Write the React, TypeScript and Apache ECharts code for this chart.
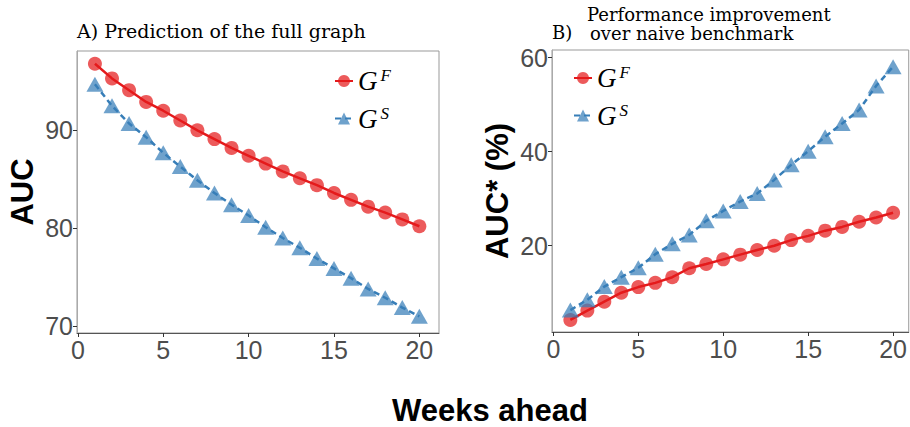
import React, { useEffect, useRef } from "react";
import * as echarts from "echarts";

const weeks = [1, 2, 3, 4, 5, 6, 7, 8, 9, 10, 11, 12, 13, 14, 15, 16, 17, 18, 19, 20];
const aucFull = [96.8, 95.3, 94.1, 92.9, 92.0, 91.0, 90.0, 89.1, 88.2, 87.4, 86.6, 85.8, 85.1, 84.4, 83.6, 82.9, 82.2, 81.6, 80.9, 80.2];
const aucSub = [94.7, 92.5, 90.7, 89.3, 87.7, 86.3, 84.9, 83.6, 82.4, 81.3, 80.1, 79.0, 78.0, 76.9, 75.9, 74.9, 73.8, 72.9, 71.9, 71.0];
const impFull = [4.2, 6.2, 8.1, 10.0, 11.2, 12.1, 13.3, 15.2, 16.1, 17.1, 18.1, 19.1, 20.0, 21.2, 22.1, 23.2, 24.0, 25.1, 26.0, 27.0];
const impSub = [6.3, 8.5, 11.3, 13.3, 15.3, 18.2, 20.4, 22.3, 25.3, 27.4, 29.4, 31.1, 34.0, 37.2, 40.1, 43.2, 46.0, 48.9, 54.0, 58.1];

const xTicks = [0, 5, 10, 15, 20];
const yTicksA = [70, 80, 90];
const yTicksB = [20, 40, 60];

const RED = "#E41A1C";
const BLUE = "#377EB8";

function xAxis(gridIndex: number, min: number, max: number) {
  return {
    type: "value",
    gridIndex,
    min,
    max,
    splitLine: { show: false },
    axisLine: { show: true, onZero: false, lineStyle: { color: "#555", width: 1 } },
    axisTick: { show: true, length: 4, customValues: xTicks, lineStyle: { color: "#333" } },
    axisLabel: { customValues: xTicks, fontSize: 25, color: "#4d4d4d", fontFamily: "Liberation Sans", margin: 4 },
  };
}

function yAxis(gridIndex: number, min: number, max: number, ticks: number[], name: string) {
  return {
    type: "value",
    gridIndex,
    min,
    max,
    name,
    nameLocation: "middle",
    nameGap: 39,
    nameTextStyle: { fontSize: 31, fontWeight: "bold", color: "#000", fontFamily: "Liberation Sans" },
    splitLine: { show: false },
    axisLine: { show: true, onZero: false, lineStyle: { color: "#aaa", width: 1 } },
    axisTick: { show: true, length: 4, customValues: ticks, lineStyle: { color: "#333" } },
    axisLabel: { customValues: ticks, fontSize: 25, color: "#4d4d4d", fontFamily: "Liberation Sans", margin: 4 },
  };
}

function fullSeries(idx: number, values: number[]) {
  return {
    type: "line",
    name: "GF",
    xAxisIndex: idx,
    yAxisIndex: idx,
    data: weeks.map((w, i) => [w, values[i]]),
    symbol: "circle",
    symbolSize: 14,
    lineStyle: { color: RED, width: 2.5 },
    itemStyle: { color: RED, opacity: 0.72 },
    emphasis: { disabled: true },
    silent: true,
  };
}

function subSeries(idx: number, values: number[]) {
  return {
    type: "line",
    name: "GS",
    xAxisIndex: idx,
    yAxisIndex: idx,
    data: weeks.map((w, i) => [w, values[i]]),
    symbol: "triangle",
    symbolSize: [17, 15],
    lineStyle: { color: BLUE, width: 2.5, type: [6, 4] },
    itemStyle: { color: BLUE, opacity: 0.72 },
    emphasis: { disabled: true },
    silent: true,
  };
}

const legendRich = {
  g: { fontFamily: "Liberation Serif", fontStyle: "italic", fontSize: 27, color: "#000", lineHeight: 28 },
  s: { fontFamily: "Liberation Serif", fontStyle: "italic", fontSize: 17, color: "#000", lineHeight: 17, verticalAlign: "top", padding: [0, 0, 0, 3] },
};

function legend(left: number, top: number) {
  return {
    data: ["GF", "GS"],
    orient: "vertical",
    left,
    top,
    itemWidth: 18,
    itemHeight: 15,
    itemGap: 10,
    selectedMode: false,
    formatter: (n: string) => (n === "GF" ? "{g|G}{s|F}" : "{g|G}{s|S}"),
    textStyle: { rich: legendRich },
  };
}

export default function App() {
  const ref = useRef<HTMLDivElement>(null);
  useEffect(() => {
    if (!ref.current) return;
    const chart = echarts.init(ref.current, null, { renderer: "svg" });
    chart.setOption({
      animation: false,
      backgroundColor: "#fff",
      grid: [
        { left: 77, top: 51, width: 362, height: 282, show: true, borderColor: "#999", borderWidth: 1, backgroundColor: "transparent" },
        { left: 552, top: 50, width: 357, height: 282, show: true, borderColor: "#999", borderWidth: 1, backgroundColor: "transparent" },
      ],
      xAxis: [xAxis(0, -0.05, 21.15), xAxis(1, -0.08, 20.92)],
      yAxis: [yAxis(0, 69.3, 98.1, yTicksA, "AUC"), yAxis(1, 1.64, 61.64, yTicksB, "AUC* (%)")],
      legend: [legend(329, 62), legend(568, 59)],
      series: [fullSeries(0, aucFull), subSeries(0, aucSub), fullSeries(1, impFull), subSeries(1, impSub)],
      graphic: [
        { type: "text", left: 77, top: 21, style: { text: "A) Prediction of the full graph", fontFamily: "DejaVu Serif", fontSize: 19, fill: "#000" } },
        { type: "text", left: 552, top: 23, style: { text: "B)", fontFamily: "DejaVu Serif", fontSize: 18, fill: "#000" } },
        { type: "text", left: 587, top: 5, style: { text: "Performance improvement", fontFamily: "DejaVu Serif", fontSize: 18, fill: "#000" } },
        { type: "text", left: 590, top: 24, style: { text: "over naive benchmark", fontFamily: "DejaVu Serif", fontSize: 18, fill: "#000" } },
        { type: "text", x: 490, y: 410, style: { text: "Weeks ahead", fontFamily: "Liberation Sans", fontWeight: "bold", fontSize: 31, fill: "#000", align: "center", verticalAlign: "middle" } },
      ],
    });
    return () => chart.dispose();
  }, []);
  return <div ref={ref} style={{ position: "fixed", left: 0, top: 0, width: 910, height: 427 }} />;
}
